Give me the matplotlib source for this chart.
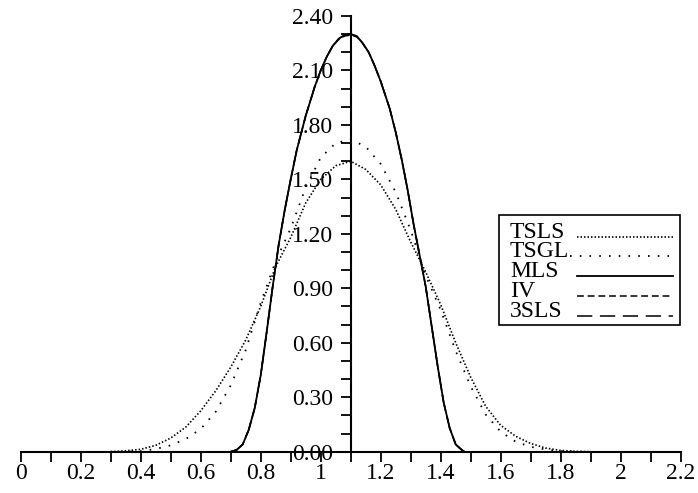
import matplotlib
matplotlib.use("Agg")
import matplotlib.pyplot as plt
import numpy as np
from matplotlib.ticker import MultipleLocator, FuncFormatter
from matplotlib.lines import Line2D
from matplotlib.patches import Rectangle

# values
x_wide = [0.30, 0.35, 0.40, 0.45, 0.50, 0.55, 0.60, 0.65, 0.70, 0.75, 0.80,
          0.85, 0.90, 0.95, 1.00, 1.05, 1.10, 1.15, 1.20, 1.25, 1.30, 1.35,
          1.40, 1.45, 1.50, 1.55, 1.60, 1.65, 1.70, 1.75, 1.80, 1.85, 1.90]
tsls = [0.0, 0.005, 0.013, 0.035, 0.075, 0.135, 0.225, 0.335, 0.465, 0.615, 0.80,
        1.02, 1.18, 1.37, 1.50, 1.575, 1.60, 1.555, 1.47, 1.335, 1.155, 0.99,
        0.81, 0.60, 0.41, 0.25, 0.145, 0.085, 0.045, 0.02, 0.007, 0.002, 0.0]
tsgl = [0.0, 0.0, 0.003, 0.015, 0.035, 0.07, 0.125, 0.22, 0.365, 0.56, 0.82,
        1.05, 1.23, 1.455, 1.62, 1.70, 1.72, 1.68, 1.585, 1.43, 1.22, 0.97,
        0.78, 0.555, 0.36, 0.205, 0.11, 0.055, 0.027, 0.012, 0.003, 0.0, 0.0]

x_narrow = [0.70, 0.72, 0.74, 0.76, 0.78, 0.80, 0.82, 0.84, 0.86, 0.88, 0.90,
            0.92, 0.95, 0.98, 1.00, 1.02, 1.04, 1.06, 1.08, 1.10, 1.12, 1.14,
            1.16, 1.18, 1.20, 1.23, 1.25, 1.27, 1.29, 1.31, 1.33, 1.35, 1.37,
            1.39, 1.41, 1.43, 1.45, 1.47, 1.48]
mls = [0.0, 0.01, 0.04, 0.12, 0.24, 0.42, 0.66, 0.91, 1.14, 1.33, 1.50,
       1.66, 1.85, 2.01, 2.10, 2.175, 2.235, 2.275, 2.295, 2.30, 2.29, 2.25,
       2.20, 2.125, 2.04, 1.89, 1.76, 1.61, 1.44, 1.25, 1.08, 0.91, 0.69,
       0.47, 0.27, 0.13, 0.04, 0.01, 0.0]
iv = [0.0, 0.01, 0.04, 0.12, 0.24, 0.42, 0.66, 0.91, 1.14, 1.33, 1.50,
      1.66, 1.85, 2.01, 2.10, 2.175, 2.235, 2.27, 2.29, 2.295, 2.285, 2.25,
      2.20, 2.125, 2.04, 1.89, 1.76, 1.61, 1.44, 1.25, 1.08, 0.91, 0.69,
      0.47, 0.27, 0.13, 0.04, 0.01, 0.0]
sls3 = [0.0, 0.01, 0.04, 0.12, 0.24, 0.42, 0.66, 0.91, 1.14, 1.33, 1.50,
        1.66, 1.85, 2.01, 2.10, 2.175, 2.235, 2.275, 2.295, 2.30, 2.29, 2.25,
        2.20, 2.125, 2.04, 1.89, 1.76, 1.61, 1.44, 1.25, 1.08, 0.91, 0.69,
        0.47, 0.27, 0.13, 0.04, 0.01, 0.0]

names = ["TSLS", "TSGL", "MLS", "IV", "3SLS"]

plt.rcParams['font.family'] = ['Liberation Serif', 'DejaVu Serif']

fig = plt.figure(figsize=(6.98, 4.93), dpi=100)
ax = fig.add_axes([20.7 / 698, 41.3 / 493, 660 / 698, 435.7 / 493])

styles = [
    dict(lw=1.2, ls=(0, (0.9, 1.2))),
    dict(lw=1.3, ls=(0, (0.9, 4.5))),
    dict(lw=1.3, ls='-'),
    dict(lw=1.1, ls=(0, (4.5, 2.5))),
    dict(lw=1.1, ls=(0, (10, 5))),
]

ax.plot(x_wide, tsls, color='black', clip_on=False, **styles[0])
ax.plot(x_wide, tsgl, color='black', clip_on=False, **styles[1])
ax.plot(x_narrow, mls, color='black', clip_on=False, **styles[2])
ax.plot(x_narrow, iv, color='black', clip_on=False, **styles[3])
ax.plot(x_narrow, sls3, color='black', clip_on=False, **styles[4])

ax.set_xlim(0, 2.2)
ax.set_ylim(0, 2.4)

for s in ['top', 'right']:
    ax.spines[s].set_visible(False)
ax.spines['left'].set_position(('data', 1.1))
ax.spines['left'].set_linewidth(1.5)
ax.spines['bottom'].set_linewidth(1.5)

ax.xaxis.set_major_locator(MultipleLocator(0.2))
ax.xaxis.set_minor_locator(MultipleLocator(0.1))
ax.xaxis.set_major_formatter(FuncFormatter(lambda v, p: f"{round(v, 2):g}"))
ax.yaxis.set_major_locator(MultipleLocator(0.3))
ax.yaxis.set_minor_locator(MultipleLocator(0.1))
ax.yaxis.set_major_formatter(FuncFormatter(lambda v, p: f"{v:.2f}"))

ax.tick_params(which='both', direction='out', length=7, width=1.3)
ax.tick_params(axis='x', pad=1, labelsize=17)
ax.tick_params(axis='y', pad=6, labelsize=17)

# legend box, drawn by hand so labels sit left and samples right
ax.add_patch(Rectangle((0.7247, 0.2908), 0.2743, 0.2525, transform=ax.transAxes,
                       facecolor='white', edgecolor='black', lw=1.2,
                       clip_on=False, zorder=5))
rows = [0.4898, 0.4462, 0.4003, 0.3544, 0.3085]
for i, name in enumerate(names):
    ax.text(0.7414, rows[i], name, transform=ax.transAxes, fontsize=17,
            va='baseline', ha='left', zorder=6)
    x0 = 0.832 if name == "TSGL" else 0.843
    ax.add_line(Line2D([x0, 0.988], [rows[i] + 0.003] * 2, transform=ax.transAxes,
                       color='black', clip_on=False, zorder=6, **styles[i]))

fig.savefig("out.png", dpi=100)
